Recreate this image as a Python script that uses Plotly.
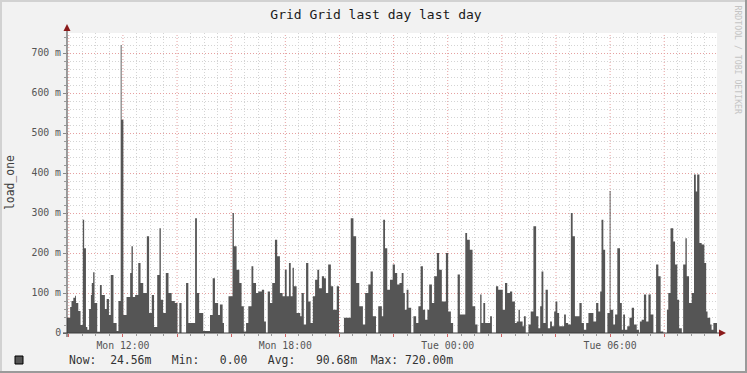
import pandas as pd
import plotly.graph_objects as go

# ---- data (minutes after window start, load_one in milli-units) ----
window_start = "2024-01-15 09:56"   # Monday
window_minutes = 1441
minutes = [0, 7, 10, 14, 18, 20, 25, 30, 35, 38, 42, 45, 49, 53, 55, 58, 61, 67, 73, 77,
           84, 88, 93, 97, 103, 110, 114, 119, 121, 125, 132, 140, 143, 146, 151, 158, 163, 169, 177, 182,
           188, 193, 200, 205, 208, 213, 219, 225, 232, 239, 245, 249, 254, 264, 269, 284, 288, 293, 302, 317,
           323, 328, 335, 339, 345, 348, 358, 367, 370, 376, 382, 387, 392, 397, 402, 409, 413, 419, 424, 432,
           437, 441, 445, 450, 455, 461, 466, 472, 478, 483, 487, 492, 496, 500, 503, 509, 517, 520, 525, 530,
           535, 540, 545, 550, 555, 559, 565, 570, 574, 579, 585, 590, 598, 603, 614, 629, 635, 641, 648, 656,
           661, 668, 673, 678, 685, 690, 698, 701, 705, 710, 716, 722, 727, 732, 737, 742, 746, 749, 753, 757,
           763, 768, 774, 779, 784, 789, 794, 799, 803, 809, 814, 820, 825, 831, 840, 845, 851, 856, 866, 871,
           883, 887, 893, 899, 905, 910, 916, 919, 923, 927, 938, 942, 951, 956, 966, 971, 976, 982, 987, 993,
           997, 1001, 1004, 1010, 1013, 1017, 1023, 1028, 1034, 1040, 1045, 1049, 1052, 1056, 1061, 1066, 1071, 1075, 1080, 1083,
           1087, 1091, 1102, 1106, 1111, 1117, 1121, 1126, 1136, 1141, 1146, 1151, 1156, 1167, 1173, 1178, 1182, 1185, 1189, 1193,
           1198, 1203, 1205, 1211, 1215, 1220, 1226, 1230, 1233, 1237, 1242, 1247, 1252, 1257, 1263, 1268, 1270, 1274, 1279, 1284,
           1289, 1294, 1300, 1306, 1311, 1316, 1322, 1330, 1333, 1338, 1344, 1348, 1353, 1357, 1363, 1366, 1371, 1374, 1379, 1385,
           1390, 1394, 1397, 1402, 1407, 1413, 1417, 1420, 1426, 1429, 1433, 1439, 1441]
load_one_m = [38, 65, 80, 88, 93, 75, 55, 20, 283, 212, 15, 8, 60, 95, 125, 152, 75, 3, 120, 95,
              60, 85, 45, 145, 25, 5, 80, 720, 533, 45, 90, 150, 217, 90, 95, 175, 125, 100, 242, 50,
              95, 15, 145, 262, 83, 50, 150, 100, 80, 75, 0, 75, 0, 125, 25, 287, 100, 50, 5, 45,
              137, 75, 45, 71, 25, 0, 92, 300, 217, 158, 125, 67, 4, 25, 67, 167, 125, 100, 104, 108,
              29, 0, 104, 75, 125, 233, 192, 100, 92, 158, 92, 175, 92, 163, 117, 50, 42, 100, 21, 175,
              79, 25, 92, 133, 158, 112, 142, 137, 100, 171, 117, 58, 117, 0, 38, 287, 242, 125, 67, 21,
              100, 121, 154, 42, 0, 67, 42, 283, 212, 108, 133, 171, 150, 121, 125, 150, 100, 58, 108, 63,
              0, 42, 25, 67, 167, 58, 33, 58, 121, 75, 142, 200, 158, 79, 200, 54, 25, 0, 146, 46,
              250, 233, 208, 67, 21, 0, 96, 25, 75, 25, 42, 0, 117, 108, 58, 125, 100, 104, 79, 25,
              29, 58, 29, 17, 42, 0, 21, 54, 267, 42, 12, 67, 154, 25, 108, 12, 29, 17, 54, 79,
              50, 17, 46, 25, 21, 300, 242, 42, 75, 25, 8, 25, 50, 29, 75, 54, 104, 283, 208, 0,
              50, 355, 58, 21, 46, 212, 75, 8, 46, 8, 17, 38, 63, 21, 8, 0, 29, 33, 96, 29,
              96, 46, 0, 171, 142, 4, 0, 58, 100, 262, 229, 171, 83, 12, 0, 171, 237, 142, 75, 100,
              396, 354, 396, 225, 221, 175, 54, 38, 21, 8, 25, 25, 25]

y_ticks = [0, 100, 200, 300, 400, 500, 600, 700]
y_labels = ["0", "100 m", "200 m", "300 m", "400 m", "500 m", "600 m", "700 m"]
legend_text = "Now:  24.56m   Min:   0.00   Avg:   90.68m  Max: 720.00m"
title_text = "Grid Grid last day last day"
y_title = "load_one"
credit = "RRDTOOL / TOBI OETIKER"

# ---- figure geometry ----
W, H = 747, 373
L, R, T, B = 67, 30, 33, 40
PW, PH = W - L - R, H - T - B
MONO = "DejaVu Sans Mono"

def px(X):
    return (X - L) / PW

def py(Y):
    return (H - B - Y) / PH

start = pd.Timestamp(window_start)
end = start + pd.Timedelta(minutes=window_minutes)
times = [start + pd.Timedelta(minutes=m) for m in minutes]

major = pd.date_range("2024-01-15 10:00", "2024-01-16 08:00", freq="2h")
major_text = [t.strftime("%a %H:%M") if t.hour % 6 == 0 else "" for t in major]
half_hours = pd.date_range("2024-01-15 10:00", "2024-01-16 09:30", freq="30min")
minor_x = [t for t in half_hours if not (t.minute == 0 and t.hour % 2 == 0)]
minor_y = [v for v in range(0, 751, 20) if v % 100 != 0]

grid_red = "#e6a0a0"
grid_gray = "#d4d4d4"

fig = go.Figure()
fig.add_trace(go.Scatter(
    x=times, y=load_one_m, mode="lines",
    line=dict(width=0, shape="hv", color="#555555"),
    fill="tozeroy", fillcolor="#555555", hoverinfo="skip", showlegend=False,
))

fig.update_xaxes(
    type="date", range=[start, end], showline=False, zeroline=False,
    tickmode="array", tickvals=major, ticktext=major_text,
    showgrid=False,
    ticks="outside", ticklen=3, tickcolor="#d06060",
    tickfont=dict(family=MONO, size=9.8, color="#555555"),
    minor=dict(tickmode="array", tickvals=minor_x, showgrid=True,
               gridcolor=grid_gray, griddash="1px,2px", ticks="outside", ticklen=2,
               tickcolor="#999999"),
    fixedrange=True,
)
fig.update_yaxes(
    range=[0, 750], showline=False, zeroline=False,
    tickmode="array", tickvals=y_ticks, ticktext=y_labels,
    showgrid=True, gridcolor=grid_red, griddash="1px,2px", gridwidth=1,
    ticks="outside", ticklen=3, tickcolor="#888888",
    tickfont=dict(family=MONO, size=9.8, color="#555555"),
    minor=dict(tickmode="array", tickvals=minor_y, showgrid=True, gridcolor=grid_gray,
               griddash="1px,2px", ticks="outside", ticklen=2, tickcolor="#999999"),
    fixedrange=True,
)

shapes = []
# red major vertical grid (every 2 hours)
for t in major:
    shapes.append(dict(type="line", xref="x", yref="paper", x0=t, x1=t, y0=0, y1=1,
                       line=dict(color=grid_red, width=1, dash="1px,2px"), layer="below"))
shapes += [
    # frame of the image
    dict(type="rect", xref="paper", yref="paper", x0=px(0), x1=px(W), y0=py(2), y1=py(0),
         line=dict(width=0), fillcolor="#d2d2d2"),
    dict(type="rect", xref="paper", yref="paper", x0=px(0), x1=px(2), y0=py(H), y1=py(0),
         line=dict(width=0), fillcolor="#d2d2d2"),
    dict(type="rect", xref="paper", yref="paper", x0=px(0), x1=px(W), y0=py(H), y1=py(H - 2),
         line=dict(width=0), fillcolor="#9a9a9a"),
    dict(type="rect", xref="paper", yref="paper", x0=px(W - 2), x1=px(W), y0=py(H), y1=py(0),
         line=dict(width=0), fillcolor="#9a9a9a"),
    # axes with arrows
    dict(type="line", xref="paper", yref="paper", x0=0, x1=0, y0=py(H - B + 4), y1=py(29),
         line=dict(color="#3c3c3c", width=1)),
    dict(type="line", xref="paper", yref="paper", x0=px(L - 4), x1=px(721), y0=0, y1=0,
         line=dict(color="#3c3c3c", width=1)),
    dict(type="path", xref="paper", yref="paper",
         path=f"M {px(L)} {py(24)} L {px(L - 3.5)} {py(31)} L {px(L + 3.5)} {py(31)} Z",
         fillcolor="#8b1a1a", line=dict(width=0)),
    dict(type="path", xref="paper", yref="paper",
         path=f"M {px(726)} {py(H - B)} L {px(719)} {py(H - B - 3.5)} L {px(719)} {py(H - B + 3.5)} Z",
         fillcolor="#8b1a1a", line=dict(width=0)),
    # legend swatch
    dict(type="rect", xref="paper", yref="paper", x0=px(15), x1=px(23), y0=py(364), y1=py(356),
         fillcolor="#555555", line=dict(color="#000000", width=1)),
]

annotations = [
    dict(text=y_title, xref="paper", yref="paper", x=px(10), y=0.5, textangle=-90,
         showarrow=False, xanchor="center", yanchor="middle",
         font=dict(family=MONO, size=11.4, color="#404040")),
    dict(text=credit, xref="paper", yref="paper", x=px(737.5), y=py(60), textangle=90,
         showarrow=False, xanchor="center", yanchor="middle",
         font=dict(family=MONO, size=8.2, color="#c4c4c4")),
    dict(text=legend_text.replace(" ", "\u00a0"), xref="paper", yref="paper", x=px(67), y=py(359.5),
         showarrow=False, xanchor="left", yanchor="middle",
         font=dict(family=MONO, size=11.4, color="#333333")),
]

fig.update_layout(
    width=W, height=H, autosize=False,
    margin=dict(l=L, r=R, t=T, b=B, pad=0),
    paper_bgcolor="#f2f2f2", plot_bgcolor="#ffffff",
    title=dict(text=title_text, x=376 / W, xref="container", xanchor="center",
               y=1 - 14 / H, yref="container", yanchor="middle",
               font=dict(family=MONO, size=13, color="#1a1a1a")),
    shapes=shapes, annotations=annotations, showlegend=False,
)

fig.write_html("out.html")
